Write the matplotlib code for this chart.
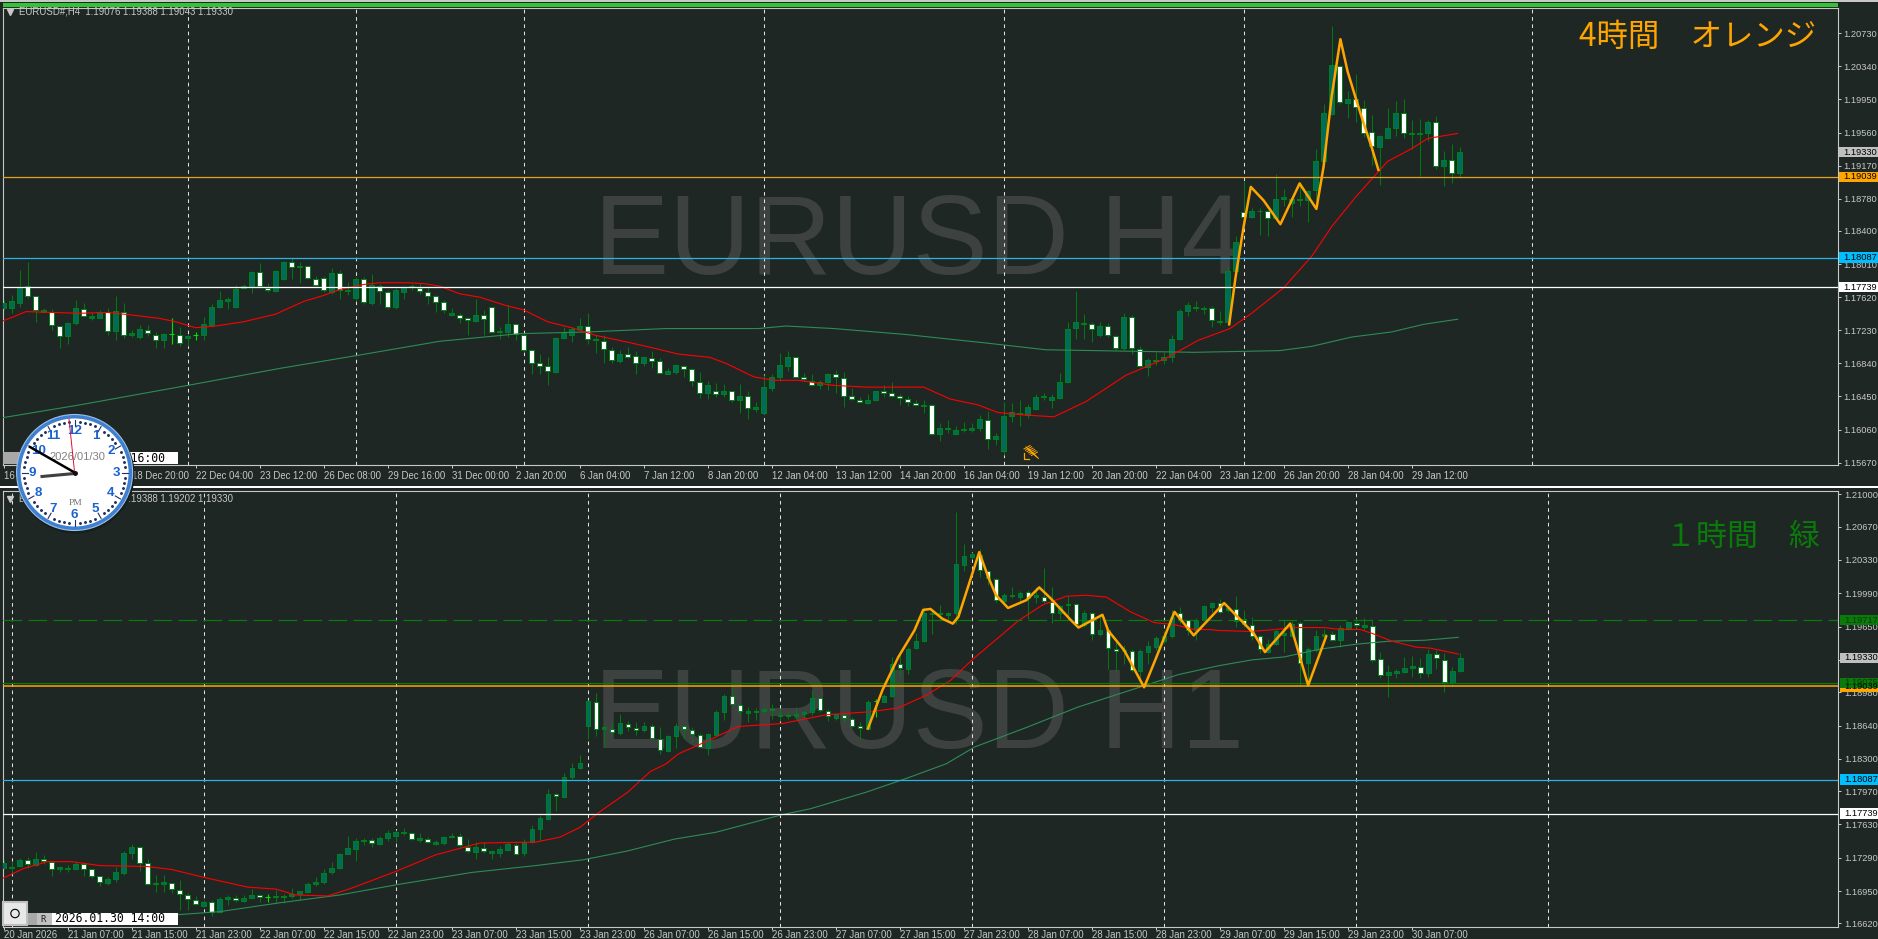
import math
import matplotlib
matplotlib.use("Agg")
import matplotlib.pyplot as plt
from matplotlib.patches import Circle, Rectangle
from matplotlib.transforms import blended_transform_factory

plt.rcParams['font.family'] = ['Liberation Sans', 'Noto Sans CJK JP']

# H4 panel, one entry per bar
h4_high = [1.1759,1.1765,1.1794,1.1804,1.1763,1.1749,1.1748,1.1728,1.1733,1.1759,
1.1755,1.1745,1.1747,1.1749,1.1763,1.1755,1.1723,1.1729,1.1729,1.1721,
1.1720,1.1737,1.1727,1.1719,1.1721,1.1739,1.1754,1.1769,1.1762,1.1776,
1.1778,1.1793,1.1802,1.1779,1.1794,1.1805,1.1808,1.1804,1.1800,1.1787,
1.1787,1.1796,1.1794,1.1780,1.1786,1.1786,1.1789,1.1778,1.1770,1.1773,
1.1775,1.1778,1.1779,1.1775,1.1765,1.1759,1.1749,1.1743,1.1739,1.1760,
1.1747,1.1751,1.1727,1.1753,1.1731,1.1719,1.1701,1.1695,1.1691,1.1715,
1.1727,1.1727,1.1738,1.1743,1.1717,1.1717,1.1703,1.1700,1.1703,1.1699,
1.1693,1.1698,1.1690,1.1678,1.1683,1.1682,1.1678,1.1674,1.1663,1.1661,
1.1660,1.1651,1.1660,1.1651,1.1639,1.1670,1.1671,1.1696,1.1699,1.1692,
1.1673,1.1671,1.1664,1.1673,1.1676,1.1674,1.1655,1.1644,1.1648,1.1652,
1.1659,1.1662,1.1648,1.1646,1.1641,1.1641,1.1636,1.1614,1.1617,1.1610,
1.1615,1.1614,1.1623,1.1628,1.1602,1.1638,1.1637,1.1641,1.1636,1.1648,
1.1649,1.1648,1.1673,1.1733,1.1769,1.1742,1.1733,1.1733,1.1732,1.1717,
1.1743,1.1741,1.1705,1.1690,1.1697,1.1697,1.1718,1.1748,1.1756,1.1758,
1.1752,1.1752,1.1746,1.1798,1.1834,1.1899,1.1867,1.1867,1.1865,1.1907,
1.1890,1.1880,1.1898,1.1888,1.1937,1.1990,1.2082,1.2036,1.2005,1.2025,
1.1994,1.1977,1.1953,1.1985,1.1993,1.1996,1.1971,1.1972,1.1971,1.1975,
1.1934,1.1943,1.1939]
h4_low = [1.1747,1.1743,1.1750,1.1761,1.1733,1.1745,1.1723,1.1702,1.1707,1.1729,
1.1739,1.1735,1.1737,1.1717,1.1711,1.1714,1.1715,1.1713,1.1716,1.1702,
1.1702,1.1707,1.1705,1.1705,1.1712,1.1711,1.1727,1.1749,1.1748,1.1749,
1.1772,1.1767,1.1774,1.1768,1.1768,1.1782,1.1784,1.1779,1.1784,1.1774,
1.1768,1.1766,1.1760,1.1765,1.1757,1.1754,1.1753,1.1754,1.1748,1.1748,
1.1760,1.1770,1.1766,1.1754,1.1745,1.1743,1.1741,1.1732,1.1718,1.1733,
1.1718,1.1720,1.1713,1.1715,1.1712,1.1697,1.1671,1.1671,1.1658,1.1673,
1.1713,1.1709,1.1723,1.1707,1.1696,1.1684,1.1684,1.1684,1.1690,1.1671,
1.1681,1.1678,1.1672,1.1671,1.1671,1.1668,1.1657,1.1643,1.1642,1.1644,
1.1644,1.1638,1.1625,1.1618,1.1627,1.1624,1.1651,1.1663,1.1675,1.1667,
1.1663,1.1657,1.1654,1.1653,1.1649,1.1633,1.1641,1.1637,1.1636,1.1640,
1.1644,1.1644,1.1635,1.1634,1.1634,1.1625,1.1599,1.1593,1.1602,1.1600,
1.1603,1.1603,1.1604,1.1583,1.1588,1.1576,1.1615,1.1610,1.1620,1.1629,
1.1641,1.1631,1.1642,1.1661,1.1713,1.1713,1.1709,1.1715,1.1715,1.1700,
1.1700,1.1695,1.1680,1.1669,1.1682,1.1683,1.1686,1.1711,1.1740,1.1746,
1.1742,1.1727,1.1729,1.1731,1.1792,1.1855,1.1855,1.1835,1.1834,1.1853,
1.1869,1.1857,1.1869,1.1850,1.1876,1.1920,1.1977,1.1990,1.1973,1.1969,
1.1951,1.1918,1.1894,1.1949,1.1952,1.1950,1.1937,1.1905,1.1946,1.1913,
1.1893,1.1897,1.1904]
h4_body_top = [1.1755,1.1757,1.1774,1.1775,1.1763,1.1747,1.1745,1.1728,1.1731,1.1749,
1.1748,1.1740,1.1745,1.1745,1.1746,1.1745,1.1720,1.1724,1.1723,1.1718,
1.1719,1.1719,1.1718,1.1716,1.1717,1.1730,1.1750,1.1759,1.1760,1.1772,
1.1775,1.1792,1.1792,1.1773,1.1793,1.1804,1.1803,1.1799,1.1799,1.1784,
1.1785,1.1791,1.1791,1.1770,1.1784,1.1783,1.1776,1.1775,1.1768,1.1771,
1.1774,1.1775,1.1773,1.1768,1.1763,1.1756,1.1743,1.1741,1.1738,1.1741,
1.1741,1.1750,1.1722,1.1730,1.1730,1.1718,1.1700,1.1684,1.1681,1.1714,
1.1720,1.1725,1.1728,1.1728,1.1713,1.1710,1.1700,1.1695,1.1695,1.1693,
1.1691,1.1690,1.1687,1.1675,1.1682,1.1681,1.1677,1.1662,1.1659,1.1652,
1.1651,1.1651,1.1645,1.1645,1.1633,1.1656,1.1668,1.1682,1.1692,1.1692,
1.1668,1.1663,1.1662,1.1671,1.1671,1.1667,1.1646,1.1641,1.1641,1.1651,
1.1652,1.1649,1.1646,1.1642,1.1637,1.1635,1.1635,1.1608,1.1608,1.1606,
1.1607,1.1608,1.1618,1.1617,1.1598,1.1622,1.1627,1.1626,1.1632,1.1644,
1.1645,1.1644,1.1662,1.1725,1.1733,1.1732,1.1730,1.1728,1.1728,1.1716,
1.1739,1.1739,1.1701,1.1688,1.1688,1.1692,1.1713,1.1746,1.1753,1.1751,
1.1749,1.1749,1.1734,1.1793,1.1827,1.1862,1.1864,1.1864,1.1863,1.1878,
1.1880,1.1878,1.1878,1.1887,1.1922,1.1979,1.2036,1.2035,1.1996,1.1996,
1.1985,1.1957,1.1952,1.1961,1.1979,1.1979,1.1955,1.1955,1.1969,1.1969,
1.1924,1.1924,1.1933]
h4_body_bot = [1.1749,1.1749,1.1755,1.1763,1.1747,1.1745,1.1729,1.1716,1.1716,1.1731,
1.1740,1.1737,1.1737,1.1722,1.1722,1.1718,1.1718,1.1715,1.1720,1.1712,
1.1712,1.1719,1.1708,1.1714,1.1717,1.1717,1.1729,1.1750,1.1758,1.1751,
1.1773,1.1774,1.1775,1.1770,1.1769,1.1783,1.1798,1.1798,1.1785,1.1776,
1.1770,1.1768,1.1771,1.1769,1.1761,1.1756,1.1755,1.1769,1.1751,1.1750,
1.1768,1.1774,1.1769,1.1763,1.1756,1.1747,1.1741,1.1738,1.1735,1.1734,
1.1736,1.1721,1.1721,1.1721,1.1719,1.1700,1.1685,1.1681,1.1675,1.1674,
1.1714,1.1717,1.1724,1.1713,1.1711,1.1701,1.1688,1.1687,1.1692,1.1684,
1.1684,1.1687,1.1673,1.1672,1.1674,1.1677,1.1663,1.1649,1.1649,1.1648,
1.1648,1.1641,1.1641,1.1631,1.1630,1.1625,1.1655,1.1668,1.1681,1.1668,
1.1666,1.1658,1.1658,1.1662,1.1668,1.1646,1.1642,1.1638,1.1637,1.1641,
1.1649,1.1646,1.1643,1.1638,1.1635,1.1634,1.1601,1.1601,1.1607,1.1601,
1.1606,1.1606,1.1608,1.1595,1.1595,1.1581,1.1622,1.1624,1.1623,1.1630,
1.1644,1.1641,1.1643,1.1662,1.1726,1.1730,1.1724,1.1718,1.1717,1.1702,
1.1702,1.1702,1.1681,1.1680,1.1687,1.1688,1.1692,1.1713,1.1746,1.1749,
1.1748,1.1735,1.1733,1.1733,1.1793,1.1857,1.1857,1.1863,1.1855,1.1855,
1.1878,1.1873,1.1876,1.1876,1.1888,1.1922,1.1978,1.1992,1.1991,1.1986,
1.1956,1.1940,1.1939,1.1950,1.1961,1.1955,1.1954,1.1954,1.1955,1.1917,
1.1916,1.1908,1.1908]
# u = teal up bar, d = white down bar, x = bright green doji
h4_kind = ("uuuddudduu" "duududuudd" "uxduxuuuuu" "uudduududd" "duduududdu"
           "uuddddu" "ddu" "dduu" "ddddd" "u" "uuu" "dddd" "u" "dd" "uddu" "uddd" "ud"
           "udud" "uuuuu" "d" "dd" "uu" "dddd" "uu" "ddddd" "u" "d" "uuu"
           "uuu" "d" "uuu" "d" "uu" "uuuuuu" "d" "u" "dd" "u" "dd" "uuuuuu" "d"
           "u" "d" "uuu" "d" "uu" "d" "u" "uu" "d" "uuuu" "d" "u" "d"
           "dd" "uuu" "d" "uuu" "d" "udu")

# H1 panel, one entry per bar
h1_high = [1.1727,1.1726,1.1729,1.1730,1.1735,1.1732,1.1727,1.1721,1.1722,1.1725,
1.1725,1.1718,1.1710,1.1709,1.1720,1.1736,1.1743,1.1741,1.1728,1.1711,
1.1711,1.1703,1.1706,1.1693,1.1690,1.1686,1.1686,1.1689,1.1691,1.1691,
1.1691,1.1697,1.1692,1.1692,1.1696,1.1692,1.1698,1.1695,1.1704,1.1709,
1.1718,1.1725,1.1734,1.1751,1.1749,1.1749,1.1749,1.1751,1.1757,1.1757,
1.1759,1.1755,1.1754,1.1750,1.1747,1.1751,1.1754,1.1754,1.1748,1.1745,
1.1745,1.1737,1.1741,1.1745,1.1744,1.1748,1.1762,1.1773,1.1799,1.1795,
1.1815,1.1826,1.1834,1.1890,1.1897,1.1863,1.1868,1.1876,1.1869,1.1868,
1.1868,1.1866,1.1862,1.1854,1.1867,1.1865,1.1862,1.1856,1.1856,1.1880,
1.1896,1.1904,1.1887,1.1883,1.1882,1.1883,1.1886,1.1882,1.1879,1.1883,
1.1880,1.1900,1.1893,1.1881,1.1877,1.1877,1.1873,1.1868,1.1890,1.1891,
1.1896,1.1934,1.1938,1.1944,1.1958,1.1985,1.1983,1.1987,1.1980,1.2082,
1.2049,1.2041,1.2044,1.2023,1.2015,1.1999,1.2005,1.2001,1.2002,1.2005,
1.2025,1.2005,1.1987,1.1996,1.1989,1.1982,1.1980,1.1979,1.1962,1.1949,
1.1946,1.1942,1.1942,1.1950,1.1955,1.1960,1.1982,1.1985,1.1972,1.1974,
1.1987,1.1990,1.1993,1.1985,1.1996,1.1982,1.1975,1.1956,1.1952,1.1962,
1.1972,1.1971,1.1971,1.1944,1.1962,1.1963,1.1960,1.1967,1.1971,1.1974,
1.1974,1.1973,1.1939,1.1926,1.1922,1.1934,1.1935,1.1933,1.1942,1.1941,
1.1938,1.1924,1.1938]
h1_low = [1.1718,1.1713,1.1720,1.1719,1.1721,1.1723,1.1710,1.1714,1.1714,1.1716,
1.1710,1.1708,1.1700,1.1701,1.1704,1.1711,1.1728,1.1715,1.1701,1.1694,
1.1694,1.1693,1.1676,1.1676,1.1681,1.1679,1.1670,1.1673,1.1681,1.1684,
1.1684,1.1688,1.1684,1.1684,1.1683,1.1683,1.1688,1.1686,1.1693,1.1700,
1.1702,1.1712,1.1718,1.1733,1.1726,1.1742,1.1740,1.1742,1.1746,1.1745,
1.1752,1.1747,1.1745,1.1744,1.1742,1.1742,1.1749,1.1740,1.1734,1.1728,
1.1734,1.1728,1.1730,1.1736,1.1732,1.1731,1.1744,1.1746,1.1768,1.1777,
1.1791,1.1809,1.1820,1.1850,1.1853,1.1843,1.1854,1.1854,1.1858,1.1854,
1.1857,1.1850,1.1835,1.1837,1.1841,1.1851,1.1847,1.1842,1.1834,1.1853,
1.1870,1.1885,1.1874,1.1868,1.1870,1.1877,1.1871,1.1869,1.1871,1.1871,
1.1872,1.1875,1.1878,1.1869,1.1870,1.1868,1.1862,1.1850,1.1859,1.1873,
1.1888,1.1893,1.1914,1.1917,1.1942,1.1949,1.1957,1.1971,1.1971,1.1968,
1.2022,1.2034,1.2016,1.2007,1.1990,1.1989,1.1994,1.1990,1.1973,1.1989,
1.1989,1.1969,1.1973,1.1972,1.1967,1.1965,1.1951,1.1955,1.1922,1.1919,
1.1927,1.1919,1.1912,1.1927,1.1941,1.1948,1.1953,1.1969,1.1956,1.1951,
1.1971,1.1980,1.1979,1.1980,1.1965,1.1965,1.1951,1.1938,1.1938,1.1946,
1.1939,1.1955,1.1904,1.1907,1.1939,1.1948,1.1950,1.1944,1.1961,1.1964,
1.1961,1.1929,1.1913,1.1893,1.1912,1.1918,1.1914,1.1913,1.1914,1.1922,
1.1898,1.1904,1.1919]
h1_body_top = [1.1724,1.1720,1.1727,1.1727,1.1728,1.1728,1.1725,1.1720,1.1719,1.1723,
1.1723,1.1717,1.1710,1.1707,1.1714,1.1734,1.1740,1.1740,1.1724,1.1703,
1.1704,1.1703,1.1696,1.1691,1.1686,1.1684,1.1684,1.1687,1.1689,1.1688,
1.1688,1.1691,1.1691,1.1689,1.1690,1.1690,1.1692,1.1695,1.1702,1.1704,
1.1713,1.1719,1.1733,1.1739,1.1746,1.1747,1.1747,1.1749,1.1754,1.1755,
1.1755,1.1754,1.1749,1.1748,1.1745,1.1750,1.1751,1.1751,1.1740,1.1740,
1.1739,1.1736,1.1738,1.1743,1.1742,1.1745,1.1758,1.1770,1.1794,1.1794,
1.1811,1.1821,1.1826,1.1889,1.1888,1.1862,1.1860,1.1867,1.1866,1.1861,
1.1864,1.1863,1.1850,1.1853,1.1863,1.1863,1.1859,1.1854,1.1855,1.1878,
1.1894,1.1894,1.1885,1.1879,1.1879,1.1881,1.1881,1.1875,1.1875,1.1876,
1.1878,1.1892,1.1892,1.1879,1.1876,1.1875,1.1871,1.1863,1.1888,1.1889,
1.1894,1.1927,1.1927,1.1942,1.1950,1.1979,1.1979,1.1979,1.1979,1.2029,
1.2037,1.2039,1.2038,1.2022,1.2014,1.1997,1.1997,1.1999,1.2000,1.1997,
1.1995,1.1990,1.1986,1.1988,1.1988,1.1979,1.1979,1.1962,1.1961,1.1942,
1.1941,1.1940,1.1940,1.1945,1.1953,1.1955,1.1975,1.1979,1.1972,1.1972,
1.1986,1.1989,1.1989,1.1984,1.1983,1.1973,1.1967,1.1955,1.1947,1.1960,
1.1958,1.1968,1.1969,1.1942,1.1955,1.1957,1.1957,1.1964,1.1970,1.1969,
1.1967,1.1966,1.1932,1.1919,1.1920,1.1923,1.1925,1.1924,1.1937,1.1937,
1.1931,1.1920,1.1933]
h1_body_bot = [1.1719,1.1719,1.1721,1.1723,1.1722,1.1726,1.1718,1.1718,1.1717,1.1717,
1.1718,1.1710,1.1704,1.1703,1.1707,1.1713,1.1734,1.1724,1.1702,1.1702,
1.1702,1.1697,1.1692,1.1687,1.1682,1.1680,1.1674,1.1674,1.1687,1.1686,
1.1685,1.1688,1.1689,1.1689,1.1689,1.1689,1.1690,1.1692,1.1694,1.1702,
1.1704,1.1714,1.1719,1.1733,1.1738,1.1746,1.1744,1.1743,1.1749,1.1751,
1.1754,1.1748,1.1747,1.1745,1.1743,1.1744,1.1750,1.1742,1.1736,1.1735,
1.1736,1.1734,1.1734,1.1737,1.1733,1.1734,1.1745,1.1758,1.1769,1.1792,
1.1791,1.1811,1.1821,1.1863,1.1860,1.1860,1.1857,1.1856,1.1862,1.1859,
1.1859,1.1851,1.1839,1.1838,1.1853,1.1860,1.1855,1.1842,1.1841,1.1854,
1.1878,1.1886,1.1879,1.1877,1.1878,1.1879,1.1880,1.1874,1.1874,1.1874,
1.1876,1.1878,1.1880,1.1874,1.1872,1.1872,1.1863,1.1861,1.1860,1.1889,
1.1888,1.1894,1.1923,1.1922,1.1943,1.1950,1.1978,1.1978,1.1977,1.1979,
1.2028,1.2036,1.2023,1.2015,1.1992,1.1991,1.1996,1.1995,1.1994,1.1995,
1.1991,1.1979,1.1979,1.1987,1.1968,1.1967,1.1957,1.1957,1.1943,1.1940,
1.1940,1.1921,1.1920,1.1939,1.1944,1.1950,1.1955,1.1972,1.1961,1.1961,
1.1972,1.1985,1.1980,1.1982,1.1971,1.1968,1.1955,1.1942,1.1939,1.1947,
1.1956,1.1955,1.1928,1.1928,1.1941,1.1955,1.1951,1.1951,1.1964,1.1967,
1.1965,1.1931,1.1916,1.1916,1.1918,1.1919,1.1923,1.1918,1.1918,1.1933,
1.1908,1.1907,1.1920]
h1_kind = ("uuududduuu" "ddd" "uuuu" "dd" "u" "u" "dddd" "u" "d" "uu" "d"
           "uudxud" "uuuu" "uuuuuu" "d" "uuu" "ududuuuddu" "d" "uuu" "d" "uuuu" "d"
           "uuuu" "d" "u" "d" "u" "dd" "u" "dd" "uu" "ddd" "uu" "u" "dd" "uuu" "d" "u" "d" "u"
           "uu" "dd" "u" "ddd" "u" "x" "uu" "d" "uuuu" "d" "uu" "uu" "ddd" "uuu" "d" "u"
           "dd" "uu" "d" "u" "d" "u" "dd" "u" "d" "uuuuu" "dd" "u" "uu" "d" "u" "dddd" "uu"
           "uu" "d" "uuu" "d" "uu" "d" "u" "dd" "uuuu" "d" "u" "d" "duu")

# moving averages and zigzag, (bar, price) vertices
h4_red_x = [-0.1,1,2.8,6,9.5,13,16,19.5,21.5,24,26.5,30,34,37.5,40,42,45,47,50.5,52.5,54.5,57,59.5,62.5,65,68,71,74,78,80.8,84.3,88.3,90.3,93.8,96.3,99.3,103.8,107.8,115,118.3,121.8,124.3,127.8,131.3,135.3,140.3,145.3,149.3,153.3,156,160,163.5,166,169,173,176,178,181.75]
h4_red_y = [1.1734,1.1738,1.1745,1.1744,1.1743,1.1744,1.1741,1.1737,1.1733,1.1726,1.1728,1.1733,1.1742,1.1757,1.1764,1.1771,1.1777,1.1779,1.1779,1.1778,1.1775,1.1766,1.1762,1.1753,1.1747,1.1733,1.1726,1.1717,1.1709,1.1703,1.1695,1.1691,1.1684,1.1668,1.1664,1.1664,1.1658,1.1656,1.1656,1.1642,1.1635,1.1626,1.1623,1.1621,1.1639,1.1670,1.1690,1.1711,1.1725,1.1743,1.1773,1.1810,1.1845,1.1880,1.1922,1.1937,1.1949,1.1955]
h4_ma_x = [-0.1,9.5,23,34.5,44,54.5,64.5,73,82.8,94.3,97.8,103.8,112.8,122.8,130.3,148.8,159.5,163.5,168.5,173.5,177.5,181.75]
h4_ma_y = [1.1620,1.1635,1.1658,1.1678,1.1693,1.1710,1.1719,1.1721,1.1725,1.1725,1.1728,1.1725,1.1718,1.1708,1.1700,1.1697,1.1699,1.1704,1.1715,1.1721,1.1730,1.1736]
h4_zig_x = [153.2,154,155,155.9,157.5,159.6,162,164.1,165,166,167.1,168,169.1,170,171,171.85]
h4_zig_y = [1.1730,1.1786,1.1845,1.1892,1.1876,1.1848,1.1896,1.1866,1.1916,1.1998,1.2066,1.2028,1.1994,1.1967,1.1939,1.1912]

h1_red_x = [-0.1,2.5,5.5,8.5,12,18,21,25,30.5,34,36.5,40.5,43.5,49,54,59.5,66.5,69.5,72,74.5,78,80.8,82.8,84.3,86.8,91.8,97.3,102.8,108.3,111.8,115.3,118.3,121,126.8,129.8,132.8,135.3,137.8,140.8,143.8,146.3,148.8,150.8,151.8,155.8,159,161,165,167,169.5,171,173.5,176.5,178.25,181.75]
h1_red_y = [1.1708,1.1718,1.1725,1.1725,1.1721,1.1720,1.1717,1.1709,1.1699,1.1697,1.1691,1.1690,1.1698,1.1715,1.1732,1.1744,1.1745,1.1750,1.1760,1.1776,1.1796,1.1817,1.1825,1.1835,1.1844,1.1863,1.1866,1.1875,1.1878,1.1882,1.1895,1.1910,1.1931,1.1971,1.1987,1.1996,1.1997,1.1995,1.1980,1.1969,1.1967,1.1962,1.1962,1.1961,1.1960,1.1962,1.1964,1.1964,1.1962,1.1962,1.1958,1.1950,1.1944,1.1943,1.1937]
h1_ma_x = [7,22,27,34.5,42,49.5,58.5,66.5,72.5,78,83.8,89,97.3,100.8,107.8,112.8,117.8,121.3,127.8,134.3,142.3,146.8,151.8,156,160,164.5,169,173,177.5,181.75]
h1_ma_y = [1.1664,1.1671,1.1674,1.1683,1.1691,1.1702,1.1714,1.1721,1.1727,1.1736,1.1748,1.1755,1.1773,1.1779,1.1796,1.1810,1.1825,1.1842,1.1862,1.1883,1.1904,1.1916,1.1925,1.1931,1.1934,1.1942,1.1947,1.1950,1.1951,1.1954]
h1_zig_x = [108,109.8,111.8,113.8,114.9,115.8,117.3,118.6,119.3,121.9,123,124,125.5,127.8,129.4,130.8,133.3,134.3,137.3,138,140,142.5,143.8,146.3,148.7,152.5,156.2,157.6,160.75,163,165.25]
h1_zig_y = [1.1861,1.1900,1.1934,1.1961,1.1982,1.1983,1.1973,1.1968,1.1975,1.2041,1.2016,1.1997,1.1984,1.1992,1.2005,1.1994,1.1972,1.1964,1.1977,1.1961,1.1941,1.1903,1.1929,1.1980,1.1956,1.1989,1.1958,1.1939,1.1968,1.1905,1.1955]

# axes text
h4_yticks = [1.20730,1.20340,1.19950,1.19560,1.19170,1.18780,1.18400,1.18010,1.17620,1.17230,1.16840,1.16450,1.16060,1.15670]
h1_yticks = [1.21000,1.20670,1.20330,1.19990,1.19650,1.19310,1.18980,1.18640,1.18300,1.17970,1.17630,1.17290,1.16950,1.16620]
h4_dates = ["16 Dec 04:00","17 Dec 12:00","18 Dec 20:00","22 Dec 04:00","23 Dec 12:00","26 Dec 08:00","29 Dec 16:00","31 Dec 00:00","2 Jan 20:00","6 Jan 04:00","7 Jan 12:00","8 Jan 20:00","12 Jan 04:00","13 Jan 12:00","14 Jan 20:00","16 Jan 04:00","19 Jan 12:00","20 Jan 20:00","22 Jan 04:00","23 Jan 12:00","26 Jan 20:00","28 Jan 04:00","29 Jan 12:00"]
h1_dates = ["20 Jan 2026","21 Jan 07:00","21 Jan 15:00","21 Jan 23:00","22 Jan 07:00","22 Jan 15:00","22 Jan 23:00","23 Jan 07:00","23 Jan 15:00","23 Jan 23:00","26 Jan 07:00","26 Jan 15:00","26 Jan 23:00","27 Jan 07:00","27 Jan 15:00","27 Jan 23:00","28 Jan 07:00","28 Jan 15:00","28 Jan 23:00","29 Jan 07:00","29 Jan 15:00","29 Jan 23:00","30 Jan 07:00"]
h4_days = [23,44,65,95,125,155,191]
h1_days = [1,25,49,73,97,121,145,169,193]

BG = '#1e2723'
GREY = '#c8c8c8'
WICK = '#007a10'
TEAL = '#006b58'
W, H = 1878, 939

fig = plt.figure(figsize=(W/100, H/100), dpi=100, facecolor=BG)


def px_axes(x0, y0, x1, y1):
    return fig.add_axes([x0/W, 1-y1/H, (x1-x0)/W, (y1-y0)/H], facecolor=BG)


def draw_bars(ax, high, low, body_top, body_bot, kind):
    for i in range(len(high)):
        k = kind[i]
        if k == 'x':
            ax.vlines(i, low[i], high[i], color='#00e000', lw=0.8, zorder=3)
            ax.hlines(body_top[i], i-0.3, i+0.3, color='#00e000', lw=0.8, zorder=3)
            continue
        ax.vlines(i, low[i], high[i], color=WICK, lw=0.75, zorder=3)
        fc = TEAL if k == 'u' else 'white'
        ax.bar(i, body_top[i]-body_bot[i], bottom=body_bot[i], width=0.58,
               facecolor=fc, edgecolor='#00801a', linewidth=0.72, zorder=4)


def price_tag(ax, price, txt, fc, tc='black', hgt=0.00122):
    trans = blended_transform_factory(ax.transAxes, ax.transData)
    box = ax.get_position()
    wd = box.width*W
    x0 = 1 + 1.6/wd
    r = Rectangle((x0, price-hgt/2), 40/wd, hgt, transform=trans, facecolor=fc,
                  edgecolor='none', clip_on=False, zorder=20)
    ax.add_patch(r)
    ax.text(1 + 6/wd, price, txt, transform=trans, fontsize=6.7, color=tc, va='center',
            ha='left', clip_on=False, zorder=21)


def setup_panel(ax, ylim, yticks, dates, days, name, base_y, xpad):
    ax.set_xlim(-0.1, 229.25)
    ax.set_ylim(*ylim)
    ax.yaxis.tick_right()
    ax.set_yticks(yticks)
    ax.set_yticklabels(['%.5f' % v for v in yticks])
    ax.set_xticks(range(0, 8*len(dates), 8))
    ax.set_xticklabels(dates, ha='left')
    ax.tick_params(axis='y', colors=GREY, labelsize=6.7, length=2.5, width=0.72, pad=1.5)
    ax.tick_params(axis='x', colors=GREY, labelsize=6.9, length=2.5, width=0.72, pad=xpad)
    for s in ax.spines.values():
        s.set_color(GREY)
        s.set_linewidth(0.8)
    ax.set_axisbelow(False)
    for d in days:
        ax.axvline(d, color='#e0e0e0', lw=0.75, ls=(0, (3.5, 3.5)), zorder=2)
    fig.text(594/W, 1-base_y/H, name, fontsize=81, color='#3d4241', va='baseline', ha='left', zorder=-1)


ax_top = px_axes(2.8, 8, 1837.6, 465)
ax_top.patch.set_alpha(0)
ax_bot = px_axes(2.8, 491, 1838.4, 926.7)
ax_bot.patch.set_alpha(0)

setup_panel(ax_top, (1.15642, 1.21028), h4_yticks, h4_dates, h4_days, "EURUSD H4", 274, 1.5)
setup_panel(ax_bot, (1.16586, 1.21034), h1_yticks, h1_dates, h1_days, "EURUSD H1", 748, 0)

draw_bars(ax_top, h4_high, h4_low, h4_body_top, h4_body_bot, h4_kind)
draw_bars(ax_bot, h1_high, h1_low, h1_body_top, h1_body_bot, h1_kind)

ax_top.plot(h4_ma_x, h4_ma_y, color='#2e8b57', lw=0.8, zorder=5)
ax_top.plot(h4_red_x, h4_red_y, color='#ff0000', lw=0.8, zorder=5)
ax_top.plot(h4_zig_x, h4_zig_y, color='#ffa500', lw=1.8, zorder=7)
ax_bot.plot(h1_ma_x, h1_ma_y, color='#2e8b57', lw=0.8, zorder=5)
ax_bot.plot(h1_red_x, h1_red_y, color='#ff0000', lw=0.8, zorder=5)
ax_bot.plot(h1_zig_x, h1_zig_y, color='#ffa500', lw=1.8, zorder=7)

ax_top.axhline(1.19039, color='#e8a020', lw=0.9, zorder=6)
ax_top.axhline(1.18087, color='#28b4e6', lw=0.9, zorder=6)
ax_top.axhline(1.17739, color='white', lw=0.9, zorder=6)
ax_bot.axhline(1.19717, color='#0a7a0a', lw=0.9, ls=(0, (15, 5)), zorder=6)
ax_bot.axhline(1.19075, color='#0a7a0a', lw=0.9, zorder=6)
ax_bot.axhline(1.19039, color='#ffa500', lw=1.1, zorder=6)
ax_bot.axhline(1.18087, color='#28b4e6', lw=0.9, zorder=6)
ax_bot.axhline(1.17739, color='white', lw=0.9, zorder=6)

price_tag(ax_top, 1.19330, '1.19330', '#c0c0c0')
price_tag(ax_top, 1.19039, '1.19039', '#ffa500')
price_tag(ax_top, 1.18087, '1.18087', '#00bfff')
price_tag(ax_top, 1.17739, '1.17739', 'white')
price_tag(ax_bot, 1.19717, '1.19717', '#0a7a0a', '#0a3a0a', 0.00108)
price_tag(ax_bot, 1.19330, '1.19330', '#c0c0c0', 'black', 0.00108)
price_tag(ax_bot, 1.19039, '1.19039', '#ffa500', 'black', 0.00108)
price_tag(ax_bot, 1.19075, '1.19075', '#0a7a0a', '#0a3a0a', 0.00108)
price_tag(ax_bot, 1.18087, '1.18087', '#00bfff', 'black', 0.00108)
price_tag(ax_bot, 1.17739, '1.17739', 'white', 'black', 0.00108)

# everything that sits on top of the charts, in pixel coordinates
ui = fig.add_axes([0, 0, 1, 1], zorder=5)
ui.set_xlim(0, W)
ui.set_ylim(H, 0)
ui.axis('off')

ui.add_patch(Rectangle((0, 0), W, 2, facecolor='#c8c8c8', edgecolor='none'))
ui.add_patch(Rectangle((3, 3), 1835, 4.4, facecolor='#33c433', edgecolor='none'))
ui.add_patch(Rectangle((0, 486), W, 2, facecolor='white', edgecolor='none'))

ui.text(19, 11.7, "EURUSD#,H4  1.19076 1.19388 1.19043 1.19330", fontsize=6.9, color=GREY, va='center')
ui.text(19, 498.7, "EURUSD#,H1  1.19204 1.19388 1.19202 1.19330", fontsize=6.9, color=GREY, va='center')
ui.plot([9.5, 9.5], [11.5, 498.5], ls='', marker='v', ms=4, color=GREY)

ui.text(1579, 37, "4時間　オレンジ", fontsize=22.6, color='#ffa500', va='center', family=['Noto Sans CJK JP'])
ui.text(1665, 537, "１時間　緑", fontsize=22.3, color='#0a7a0a', va='center', family=['Noto Sans CJK JP'])

# bottom-left date boxes
for y0, stamp in ((452, "2026.01.30 16:00"), (913, "2026.01.30 14:00")):
    ui.add_patch(Rectangle((3, y0), 34, 12, facecolor='#a8a8a8', edgecolor='none'))
    ui.add_patch(Rectangle((37, y0), 15, 12, facecolor='#c0c0c0', edgecolor='none'))
    ui.text(43.5, y0+6, "R", fontsize=6.5, color='#202020', ha='center', va='center', family=['DejaVu Sans Mono'])
    ui.add_patch(Rectangle((52, y0), 126, 12, facecolor='white', edgecolor='none'))
    ui.text(55, y0+6, stamp, fontsize=8.3, color='black', va='center', family=['DejaVu Sans Mono'])
ui.add_patch(Rectangle((3, 902), 24, 23, facecolor='#e8e8e8', edgecolor='#c0c0c0', lw=1.5))
ui.add_patch(Circle((15, 913.5), 4.2, facecolor='none', edgecolor='black', lw=0.8))

# drawing cursor near 19 Jan
for i in range(6):
    ui.plot([1024+i*1.5, 1030+i*1.5], [449+i*1.3, 444.5+i*1.3+1], color='#ffa500', lw=0.7)
    ui.plot([1026+i*1.5, 1031+i*1.5], [447+i*1.3, 452+i*1.3], color='#ffa500', lw=0.7)
ui.plot([1023.5, 1023.5, 1029], [453, 459, 459], color='#ffa500', lw=0.9)

# clock
cx, cy = 74.6, 472.5
ui.add_patch(Circle((cx+1, cy+2), 59, facecolor='#15201c', edgecolor='none', zorder=8))
ui.add_patch(Circle((cx, cy), 58, facecolor='#3f7fd0', edgecolor='#9cc0ea', lw=0.8, zorder=9))
ui.add_patch(Circle((cx, cy), 54, facecolor='white', edgecolor='none', zorder=10))
for m in range(60):
    a = math.radians(m*6)
    if m % 5 == 0:
        ui.plot([cx+47*math.sin(a), cx+53*math.sin(a)], [cy-47*math.cos(a), cy-53*math.cos(a)],
                color='#203060', lw=0.8, zorder=11)
    else:
        ui.plot(cx+50.5*math.sin(a), cy-50.5*math.cos(a), marker='o', ms=1.1, color='#203060', zorder=11)
for h in range(1, 13):
    a = math.radians(h*30)
    ui.text(cx+42*math.sin(a), cy-42*math.cos(a), str(h), fontsize=9.6, fontweight='bold',
            color='#1a62d0', ha='center', va='center', zorder=11)
ui.text(77, 457, "2026/01/30", fontsize=8, color='#808080', ha='center', va='center', zorder=11)
ui.text(76, 502.7, "PM", fontsize=6.8, color='#707070', ha='center', va='center', family=['Liberation Serif'], zorder=11)
ui.plot([cx, 42], [cy+1, cy+4], color='#404040', lw=2.2, zorder=12)
ui.plot([cx, 30], [cy, 447], color='black', lw=1.8, zorder=12)
ui.plot([cx, 69], [cy, 419], color='#e01030', lw=0.7, zorder=13)
ui.plot(cx, cy, marker='o', ms=2.5, color='#101010', zorder=13)

fig.savefig('out.png', dpi=100, facecolor=BG)
